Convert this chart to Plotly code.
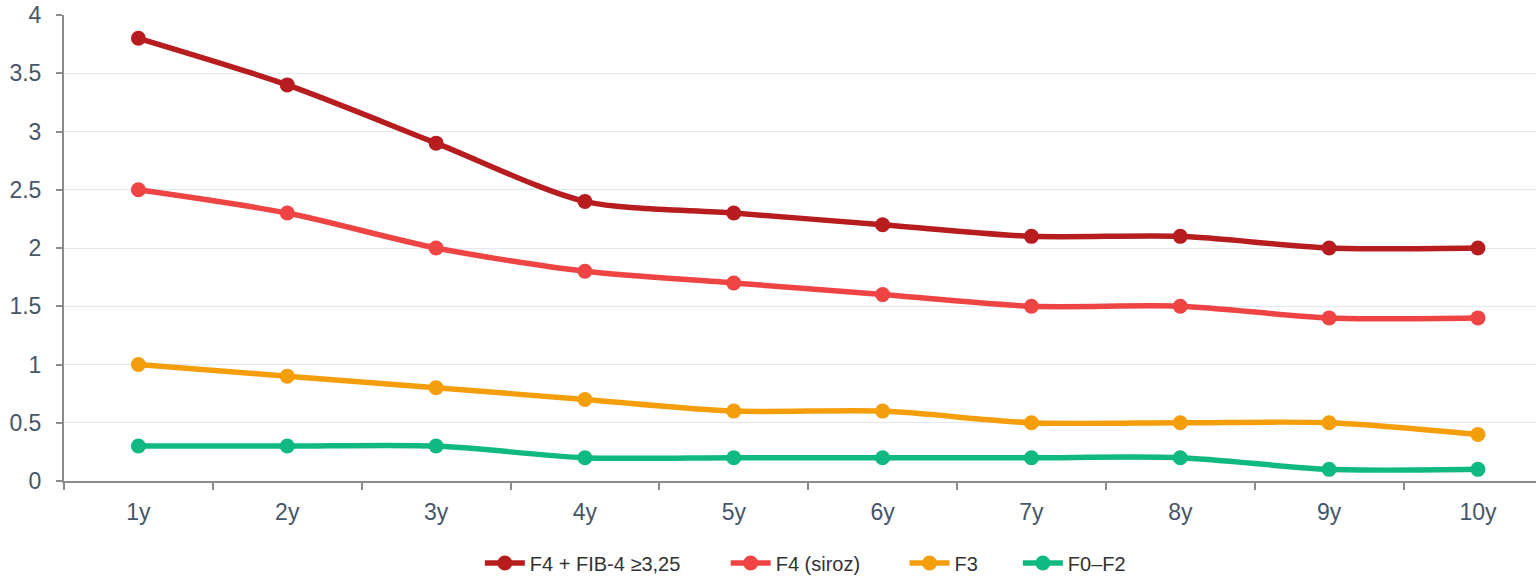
import plotly.graph_objects as go

years = ["1y", "2y", "3y", "4y", "5y", "6y", "7y", "8y", "9y", "10y"]

f4_fib4 = [3.8, 3.4, 2.9, 2.4, 2.3, 2.2, 2.1, 2.1, 2.0, 2.0]
f4_siroz = [2.5, 2.3, 2.0, 1.8, 1.7, 1.6, 1.5, 1.5, 1.4, 1.4]
f3 = [1.0, 0.9, 0.8, 0.7, 0.6, 0.6, 0.5, 0.5, 0.5, 0.4]
f0_f2 = [0.3, 0.3, 0.3, 0.2, 0.2, 0.2, 0.2, 0.2, 0.1, 0.1]

series = [
    ("F4 + FIB-4 ≥3,25", f4_fib4, "#b71c1f"),
    ("F4 (siroz)", f4_siroz, "#ef4444"),
    ("F3", f3, "#f59e0b"),
    ("F0–F2", f0_f2, "#10b981"),
]

y_ticks = [0, 0.5, 1, 1.5, 2, 2.5, 3, 3.5, 4]
y_tick_text = ["0", "0.5", "1", "1.5", "2", "2.5", "3", "3.5", "4"]

# each series gets its own legend box so the entries can be spread out
legend_ids = ["legend", "legend2", "legend3", "legend4"]
legend_x = [0.2825, 0.4495, 0.571, 0.648]

fig = go.Figure()
for (name, vals, color), lid in zip(series, legend_ids):
    fig.add_trace(go.Scatter(
        x=years, y=vals, name=name, mode="lines+markers",
        line=dict(color=color, width=5.5, shape="spline", smoothing=0.8),
        marker=dict(color=color, size=15),
        legend=lid,
    ))

axis_font = dict(family="Liberation Sans, Arial, sans-serif", size=23, color="#475569")
legend_font = dict(family="Liberation Sans, Arial, sans-serif", size=20, color="#333333")

legend_layout = {}
for lid, lx in zip(legend_ids, legend_x):
    legend_layout[lid] = dict(
        orientation="h", x=lx, xanchor="left", y=-0.176, yanchor="middle",
        font=legend_font, itemwidth=40, bgcolor="rgba(0,0,0,0)",
    )

fig.update_layout(
    width=1536, height=577,
    margin=dict(l=64, r=0, t=15, b=96, autoexpand=False),
    plot_bgcolor="white", paper_bgcolor="white",
    showlegend=True,
    xaxis=dict(
        type="category", range=[-0.5, 9.39], autorange=False, automargin=False,
        showgrid=False, showline=True, linecolor="#8c8c8c", linewidth=2,
        ticks="outside", tickson="boundaries", ticklen=7, tickcolor="#8c8c8c", tickwidth=2,
        tickfont=axis_font, ticklabelstandoff=9,
    ),
    yaxis=dict(
        range=[0, 4], autorange=False, automargin=False,
        tickvals=y_ticks, ticktext=y_tick_text,
        showgrid=True, gridcolor="#e2e8f0", gridwidth=1,
        showline=True, linecolor="#8c8c8c", linewidth=2,
        ticks="outside", ticklen=6, tickcolor="#8c8c8c", tickwidth=2,
        tickfont=axis_font, ticklabelstandoff=10, zeroline=False,
    ),
    **legend_layout,
)

fig.write_html("out.html")
